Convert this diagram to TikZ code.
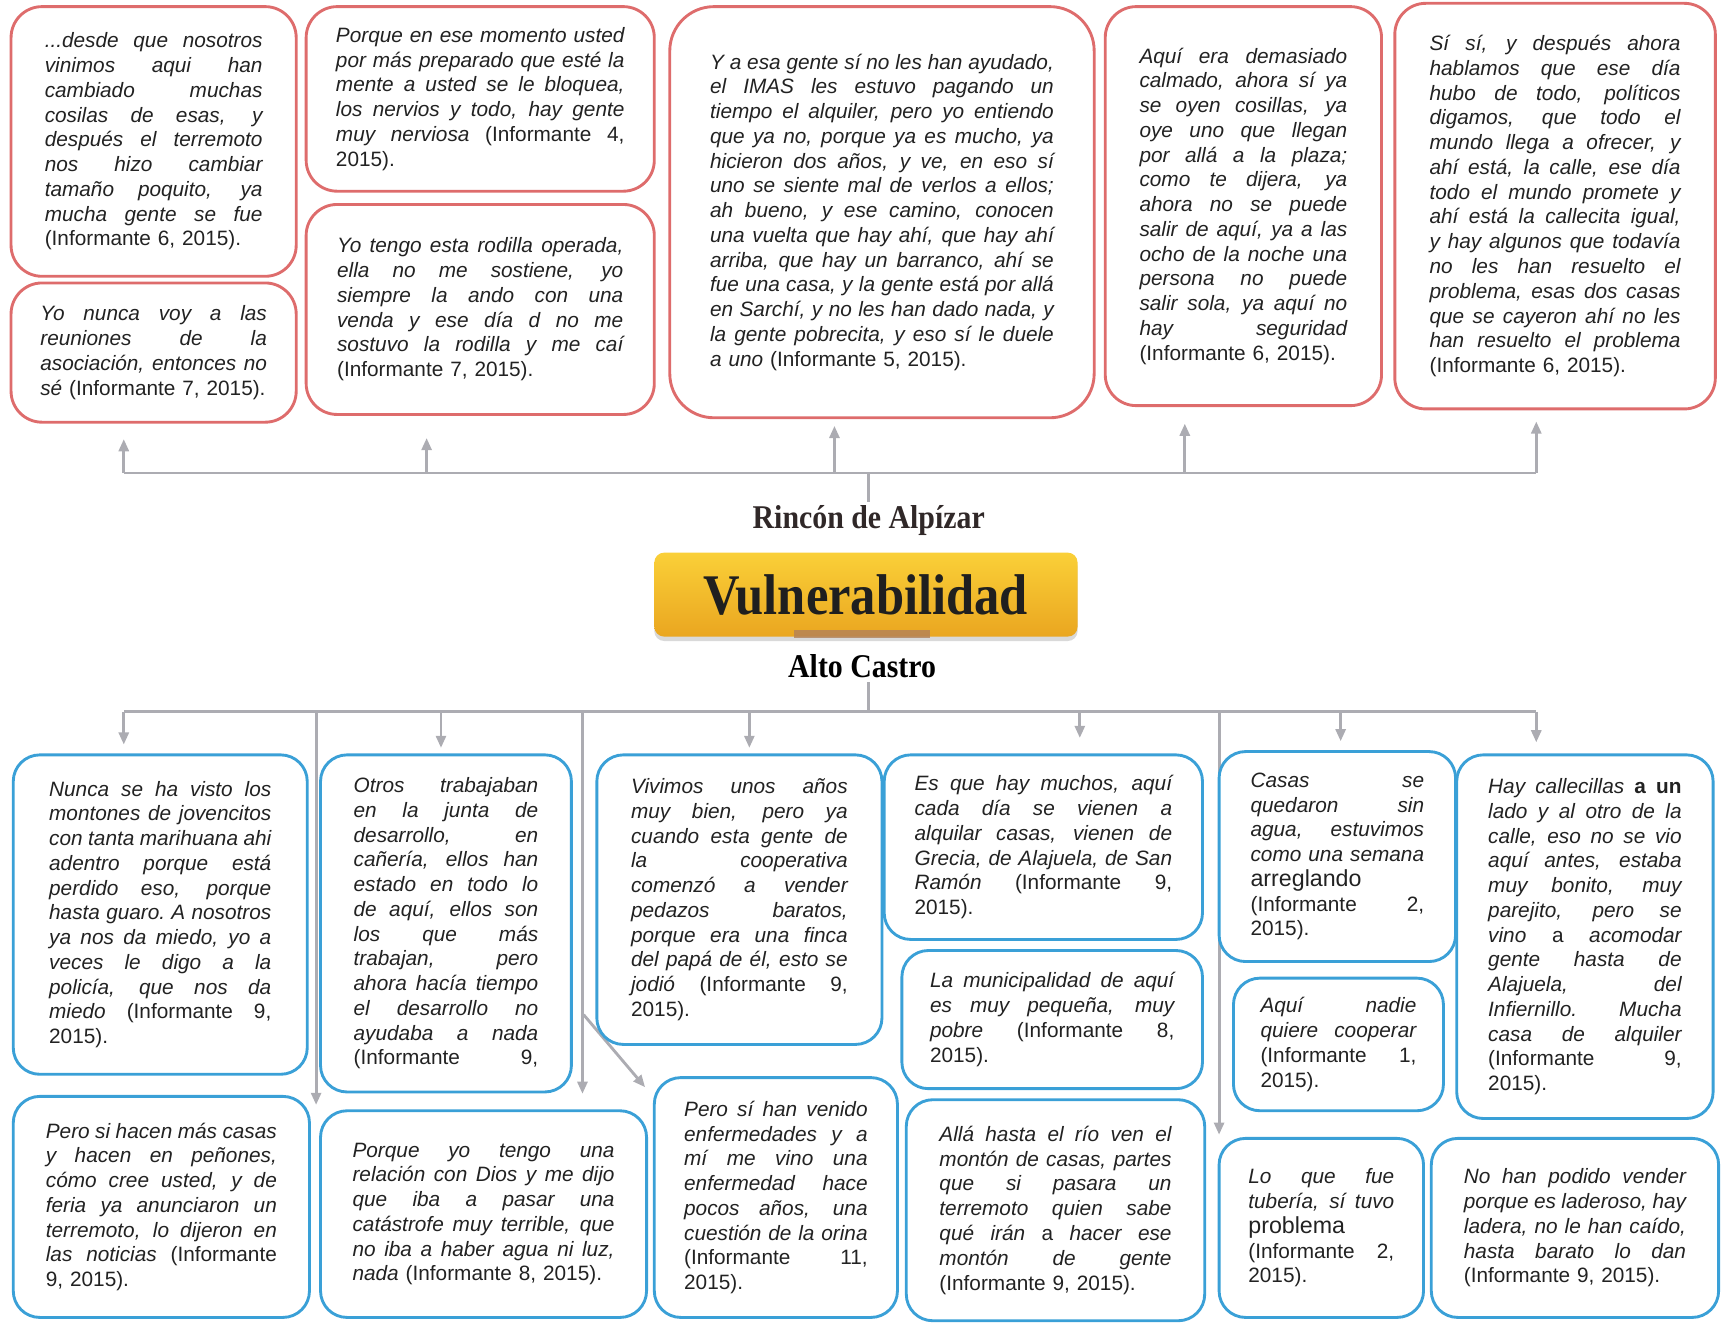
\documentclass[tikz,border=0pt]{standalone}
\usepackage{fontspec}
\setmainfont{Liberation Sans}
\newfontfamily\headfont[FakeStretch=0.9]{Liberation Serif}
\newfontfamily\titlefont[FakeStretch=0.88]{Liberation Serif}
\usetikzlibrary{arrows.meta,calc,shadows,backgrounds}
\definecolor{boxred}{RGB}{222,108,108}
\definecolor{boxblue}{RGB}{58,160,215}
\definecolor{linkgray}{RGB}{172,172,178}
\definecolor{vyellow}{RGB}{250,208,56}
\definecolor{vorange}{RGB}{234,166,32}
\definecolor{smudge}{RGB}{178,128,88}
\definecolor{headgray}{RGB}{48,40,40}
\definecolor{quotegray}{RGB}{34,34,34}
\newcommand{\jl}[1]{\hbox to \hsize{\spaceskip=.28em plus 1fil minus .08em\xspaceskip=\spaceskip #1}\par}

\begin{document}
\begin{tikzpicture}[x=1pt,y=-1pt,
    qbox/.style={fill=white, inner sep=0pt, line width=2.6pt, text=quotegray,
        font=\itshape\fontsize{18.8}{22.4}\selectfont},
    rbox/.style={qbox, draw=boxred, rounded corners=28pt},
    bbox/.style={qbox, draw=boxblue, rounded corners=24pt},
    link/.style={draw=linkgray, line width=2.6pt},
    arr/.style={link, -{Triangle[length=11pt,width=9pt]}},
    head/.style={text=headgray, font=\headfont\bfseries\fontsize{30}{32}\selectfont}]
\useasboundingbox (0,0) rectangle (1568,1198);

% Rincon de Alpizar
\node[rbox, minimum width=258pt, minimum height=244pt, text width=197pt] (A1) at (139,128) {
\jl{...desde que nosotros}
\jl{vinimos aqui han}
\jl{cambiado muchas}
\jl{cosilas de esas, y}
\jl{después el terremoto}
\jl{nos hizo cambiar}
\jl{tamaño poquito, ya}
\jl{mucha gente se fue}
\textup{(Informante 6, 2015).}};
\node[rbox, minimum width=258pt, minimum height=126pt, text width=205pt] (A2) at (139,319) {
\jl{Yo nunca voy a las}
\jl{reuniones de la}
\jl{asociación, entonces no}
sé \textup{(Informante 7, 2015).}};
\node[rbox, minimum width=315pt, minimum height=167pt, text width=261pt] (B1) at (434.5,89.5) {
\jl{Porque en ese momento usted}
\jl{por más preparado que esté la}
\jl{mente a usted se le bloquea,}
\jl{los nervios y todo, hay gente}
\jl{muy nerviosa \textup{(Informante 4,}}
\textup{2015).}};
\node[rbox, minimum width=315pt, minimum height=190pt, text width=259pt] (B2) at (434.5,280) {
\jl{Yo tengo esta rodilla operada,}
\jl{ella no me sostiene, yo}
\jl{siempre la ando con una}
\jl{venda y ese día d no me}
\jl{sostuvo la rodilla y me caí}
\textup{(Informante 7, 2015).}};
\node[rbox, rounded corners=40pt, minimum width=384pt, minimum height=372pt, text width=311pt] (C) at (798,192) {
\jl{Y a esa gente sí no les han ayudado,}
\jl{el IMAS les estuvo pagando un}
\jl{tiempo el alquiler, pero yo entiendo}
\jl{que ya no, porque ya es mucho, ya}
\jl{hicieron dos años, y ve, en eso sí}
\jl{uno se siente mal de verlos a ellos;}
\jl{ah bueno, y ese camino, conocen}
\jl{una vuelta que hay ahí, que hay ahí}
\jl{arriba, que hay un barranco, ahí se}
\jl{fue una casa, y la gente está por allá}
\jl{en Sarchí, y no les han dado nada, y}
\jl{la gente pobrecita, y eso sí le duele}
a uno \textup{(Informante 5, 2015).}};
\node[rbox, minimum width=250pt, minimum height=361pt, text width=188pt] (D) at (1125,186.5) {
\jl{Aquí era demasiado}
\jl{calmado, ahora sí ya}
\jl{se oyen cosillas, ya}
\jl{oye uno que llegan}
\jl{por allá a la plaza;}
\jl{como te dijera, ya}
\jl{ahora no se puede}
\jl{salir de aquí, ya a las}
\jl{ocho de la noche una}
\jl{persona no puede}
\jl{salir sola, ya aquí no}
\jl{hay seguridad}
\textup{(Informante 6, 2015).}};
\node[rbox, minimum width=290pt, minimum height=367pt, text width=227pt] (E) at (1407,186.5) {
\jl{Sí sí, y después ahora}
\jl{hablamos que ese día}
\jl{hubo de todo, políticos}
\jl{digamos, que todo el}
\jl{mundo llega a ofrecer, y}
\jl{ahí está, la calle, ese día}
\jl{todo el mundo promete y}
\jl{ahí está la callecita igual,}
\jl{y hay algunos que todavía}
\jl{no les han resuelto el}
\jl{problema, esas dos casas}
\jl{que se cayeron ahí no les}
\jl{han resuelto el problema}
\textup{(Informante 6, 2015).}};

% centro
\node[head] (rincon) at (786,471) {Rincón de Alpízar};
\node[draw=none, rounded corners=9pt, top color=vyellow, bottom color=vorange,
    minimum width=383pt, minimum height=76pt, text=black!88,
    font=\titlefont\bfseries\fontsize{52}{56}\selectfont,
    drop shadow={shadow xshift=0pt, shadow yshift=-4pt, opacity=0.3}] (vul) at (783.5,538) {Vulnerabilidad};
\fill[smudge, opacity=0.8] (718,570) rectangle (841,577);
\node[head, text=black] (alto) at (780,603) {Alto Castro};

% Alto Castro
\node[bbox, minimum width=266pt, minimum height=289pt, text width=201pt] (F1) at (145,827.5) {
\jl{Nunca se ha visto los}
\jl{montones de jovencitos}
\jl{con tanta marihuana ahi}
\jl{adentro porque está}
\jl{perdido eso, porque}
\jl{hasta guaro. A nosotros}
\jl{ya nos da miedo, yo a}
\jl{veces le digo a la}
\jl{policía, que nos da}
\jl{miedo \textup{(Informante 9,}}
\textup{2015).}};
\node[bbox, minimum width=268pt, minimum height=200pt, text width=209pt] (F2) at (146,1092) {
\jl{Pero si hacen más casas}
\jl{y hacen en peñones,}
\jl{cómo cree usted, y de}
\jl{feria ya anunciaron un}
\jl{terremoto, lo dijeron en}
\jl{las noticias \textup{(Informante}}
\textup{9, 2015).}};
\node[bbox, minimum width=227pt, minimum height=305pt, text width=167pt] (G1) at (403.5,835.5) {
\jl{Otros trabajaban}
\jl{en la junta de}
\jl{desarrollo, en}
\jl{cañería, ellos han}
\jl{estado en todo lo}
\jl{de aquí, ellos son}
\jl{los que más}
\jl{trabajan, pero}
\jl{ahora hacía tiempo}
\jl{el desarrollo no}
\jl{ayudaba a nada}
\jl{\textup{(Informante 9,}}};
\node[bbox, minimum width=295pt, minimum height=187pt, text width=237pt] (G2) at (437.5,1098.5) {
\jl{Porque yo tengo una}
\jl{relación con Dios y me dijo}
\jl{que iba a pasar una}
\jl{catástrofe muy terrible, que}
\jl{no iba a haber agua ni luz,}
nada \textup{(Informante 8, 2015).}};
\node[bbox, minimum width=258pt, minimum height=262pt, text width=196pt] (H1) at (669,814) {
\jl{Vivimos unos años}
\jl{muy bien, pero ya}
\jl{cuando esta gente de}
\jl{la cooperativa}
\jl{comenzó a vender}
\jl{pedazos baratos,}
\jl{porque era una finca}
\jl{del papá de él, esto se}
\jl{jodió \textup{(Informante 9,}}
\textup{2015).}};
\node[bbox, minimum width=220pt, minimum height=217pt, text width=166pt] (H2) at (702,1083.5) {
\jl{Pero sí han venido}
\jl{enfermedades y a}
\jl{mí me vino una}
\jl{enfermedad hace}
\jl{pocos años, una}
\jl{cuestión de la orina}
\jl{\textup{(Informante 11,}}
\textup{2015).}};
\node[bbox, minimum width=288pt, minimum height=167pt, text width=233pt] (I1) at (944,766.5) {
\jl{Es que hay muchos, aquí}
\jl{cada día se vienen a}
\jl{alquilar casas, vienen de}
\jl{Grecia, de Alajuela, de San}
\jl{Ramón \textup{(Informante 9,}}
\textup{2015).}};
\node[bbox, minimum width=272pt, minimum height=125pt, text width=221pt] (I2) at (952,922.5) {
\jl{La municipalidad de aquí}
\jl{es muy pequeña, muy}
\jl{pobre \textup{(Informante 8,}}
\textup{2015).}};
\node[bbox, minimum width=270pt, minimum height=200pt, text width=210pt] (I3) at (955,1095) {
\jl{Allá hasta el río ven el}
\jl{montón de casas, partes}
\jl{que si pasara un}
\jl{terremoto quien sabe}
\jl{qué irán \textup{a} hacer ese}
\jl{montón de gente}
\textup{(Informante 9, 2015).}};
\node[bbox, minimum width=214pt, minimum height=190pt, text width=157pt] (K1) at (1210,775) {
\jl{Casas se}
\jl{quedaron sin}
\jl{agua, estuvimos}
\jl{como una semana}
{\upshape\fontsize{21}{22.4}\selectfont arreglando}\par
\jl{\textup{(Informante 2,}}
\textup{2015).}};
\node[bbox, minimum width=190pt, minimum height=120pt, text width=141pt] (K2) at (1211,945) {
\jl{Aquí nadie}
\jl{quiere cooperar}
\jl{\textup{(Informante 1,}}
\textup{2015).}};
\node[bbox, minimum width=185pt, minimum height=162pt, text width=132pt] (K3) at (1195.5,1111) {
\jl{Lo que fue}
\jl{tubería, sí tuvo}
{\upshape\fontsize{21}{22.4}\selectfont problema}\par
\jl{\textup{(Informante 2,}}
\textup{2015).}};
\node[bbox, minimum width=232pt, minimum height=329pt, text width=175pt] (L1) at (1434,847.5) {
\jl{Hay callecillas \textup{\bfseries a un}}
\jl{lado y al otro de la}
\jl{calle, eso no se vio}
\jl{aquí antes, estaba}
\jl{muy bonito, muy}
\jl{parejito, pero se}
\jl{vino \textup{a} acomodar}
\jl{gente hasta de}
\jl{Alajuela, del}
\jl{Infiernillo. Mucha}
\jl{casa de alquiler}
\jl{\textup{(Informante 9,}}
\textup{2015).}};
\node[bbox, minimum width=260pt, minimum height=162pt, text width=201pt] (L2) at (1425,1111) {
\jl{No han podido vender}
\jl{porque es laderoso, hay}
\jl{ladera, no le han caído,}
\jl{hasta barato lo dan}
\textup{(Informante 9, 2015).}};

\begin{scope}[on background layer]
  % arriba
  \coordinate (tA) at (112,428);
  \coordinate (tB) at (386,428);
  \coordinate (tM) at (786,428);
  \coordinate (tC) at (755,428);
  \coordinate (tD) at (1072,428);
  \coordinate (tE) at (1390,428);
  \draw[link] (tA) -- (tE);
  \draw[link] (tM |- rincon.north) -- (tM);
  \draw[arr] (tA) -- ($(tA |- A2.south)+(0,14)$);
  \draw[arr] (tB) -- ($(tB |- B2.south)+(0,20)$);
  \draw[arr] (tC) -- ($(tC |- C.south)+(0,6)$);
  \draw[arr] (tD) -- ($(tD |- D.south)+(0,15)$);
  \draw[arr] (tE) -- ($(tE |- E.south)+(0,10)$);
  % abajo
  \coordinate (bA) at (112,644);
  \coordinate (bB) at (286,644);
  \coordinate (bC) at (399,644);
  \coordinate (bD) at (527,644);
  \coordinate (bE) at (678,644);
  \coordinate (bM) at (786,644);
  \coordinate (bF) at (977,644);
  \coordinate (bG) at (1103,644);
  \coordinate (bH) at (1213,644);
  \coordinate (bI) at (1390,644);
  \coordinate (fork) at (528,918);
  \draw[link] (bA) -- (bI);
  \draw[link] (bM |- alto.south) -- (bM);
  \draw[arr] (bA) -- ($(bA |- F1.north)+(0,-8)$);
  \draw[arr] (bB) -- ($(bB |- G2.north)+(0,-4)$);
  \draw[arr] (bC) -- ($(bC |- G1.north)+(0,-5)$);
  \draw[arr] (bD) -- ($(bD |- G2.north)+(0,-14)$);
  \draw[arr] (fork) -- ($(H2.north west)+(-7,10)$);
  \draw[arr] (bE) -- ($(bE |- H1.north)+(0,-5)$);
  \draw[arr] (bF) -- ($(bF |- I1.north)+(0,-14)$);
  \draw[arr] (bG) -- ($(bG |- K3.north)+(0,-2)$);
  \draw[arr] (bH) -- ($(bH |- K1.north)+(0,-8)$);
  \draw[arr] (bI) -- ($(bI |- L1.north)+(0,-10)$);
\end{scope}
\end{tikzpicture}
\end{document}
